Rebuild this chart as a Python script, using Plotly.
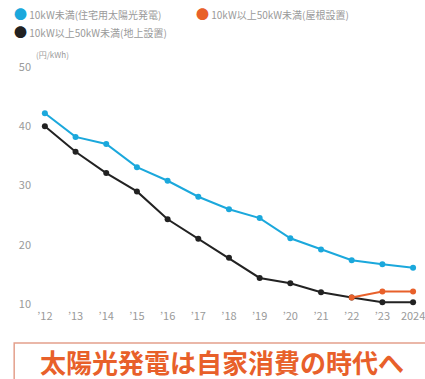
import plotly.graph_objects as go

years = list(range(2012, 2025))
tick_labels = ["’12", "’13", "’14", "’15", "’16", "’17", "’18", "’19", "’20", "’21", "’22", "’23", "2024"]

blue_name = "10kW未満(住宅用太陽光発電)"
orange_name = "10kW以上50kW未満(屋根設置)"
black_name = "10kW以上50kW未満(地上設置)"

blue_vals = [42.2, 38.2, 37.0, 33.1, 30.8, 28.1, 26.0, 24.5, 21.1, 19.2, 17.4, 16.7, 16.1]
black_vals = [40.0, 35.7, 32.1, 29.0, 24.3, 21.0, 17.8, 14.4, 13.5, 12.0, 11.1, 10.3, 10.3]
orange_years = [2022, 2023, 2024]
orange_vals = [11.1, 12.1, 12.1]

y_ticks = [10, 20, 30, 40, 50]
unit_label = "(円/kWh)"
headline = "太陽光発電は自家消費の時代へ"

BLUE = "#1ba8dc"
ORANGE = "#e8602a"
BLACK = "#222222"
GREY = "#9a9a9a"

W, H = 425, 379
ML, MR, MT, MB = 32, 0, 60, 71
PW, PH = W - ML - MR, H - MT - MB


def px(x):
    return (x - ML) / PW


def py(y):
    return (H - MB - y) / PH


fig = go.Figure()
fig.add_trace(go.Scatter(x=years, y=blue_vals, mode="lines+markers", name=blue_name,
                         line=dict(color=BLUE, width=2), marker=dict(size=6, color=BLUE)))
fig.add_trace(go.Scatter(x=years, y=black_vals, mode="lines+markers", name=black_name,
                         line=dict(color=BLACK, width=2), marker=dict(size=6, color=BLACK)))
fig.add_trace(go.Scatter(x=orange_years, y=orange_vals, mode="lines+markers", name=orange_name,
                         line=dict(color=ORANGE, width=2), marker=dict(size=6, color=ORANGE)))

annotations = []
legend_items = [(blue_name, BLUE, 12, 13), (orange_name, ORANGE, 196, 13), (black_name, BLACK, 12, 31)]
for name, col, lx, ly in legend_items:
    annotations.append(dict(
        xref="paper", yref="paper", x=px(lx), y=py(ly), xanchor="left", yanchor="middle",
        text=f"<span style='color:{col};font-size:13px'>●</span> {name}",
        showarrow=False, font=dict(size=10, color=GREY, family="Noto Sans CJK JP")))
annotations.append(dict(
    xref="paper", yref="paper", x=px(34), y=py(55), xanchor="left", yanchor="middle",
    text=unit_label, showarrow=False, font=dict(size=8, color=GREY, family="Noto Sans CJK JP")))
annotations.append(dict(
    xref="paper", yref="paper", x=px(224), y=py(361), xanchor="center", yanchor="middle",
    text=f"<b>{headline}</b>", showarrow=False,
    font=dict(size=26, color=ORANGE, family="Noto Sans CJK JP")))

shapes = [dict(type="rect", xref="paper", yref="paper",
               x0=px(14), x1=px(445), y0=py(343), y1=py(420),
               line=dict(color="#e4a08c", width=1.5), fillcolor="rgba(0,0,0,0)")]

x0 = 2012 - (45 - ML) / 31.0
x1 = 2012 + (W - 45) / 31.0
ppu = (304 - 67) / 40.0
y_top = 50 + (67 - MT) / ppu
y_bot = 10 - ((H - MB) - 304) / ppu

fig.update_layout(
    width=W, height=H,
    margin=dict(l=ML, r=MR, t=MT, b=MB, pad=0),
    paper_bgcolor="white", plot_bgcolor="white",
    showlegend=False,
    font=dict(family="Noto Sans CJK JP", color=GREY),
    xaxis=dict(range=[x0, x1], tickmode="array", tickvals=years, ticktext=tick_labels,
               showgrid=False, zeroline=False, showline=False, ticks="",
               ticklabeloverflow="allow",
               tickfont=dict(size=11, color=GREY)),
    yaxis=dict(range=[y_bot, y_top], tickmode="array", tickvals=y_ticks,
               showgrid=False, zeroline=False, showline=False, ticks="",
               tickfont=dict(size=11, color=GREY)),
    annotations=annotations,
    shapes=shapes,
)

fig.write_html("out.html")
